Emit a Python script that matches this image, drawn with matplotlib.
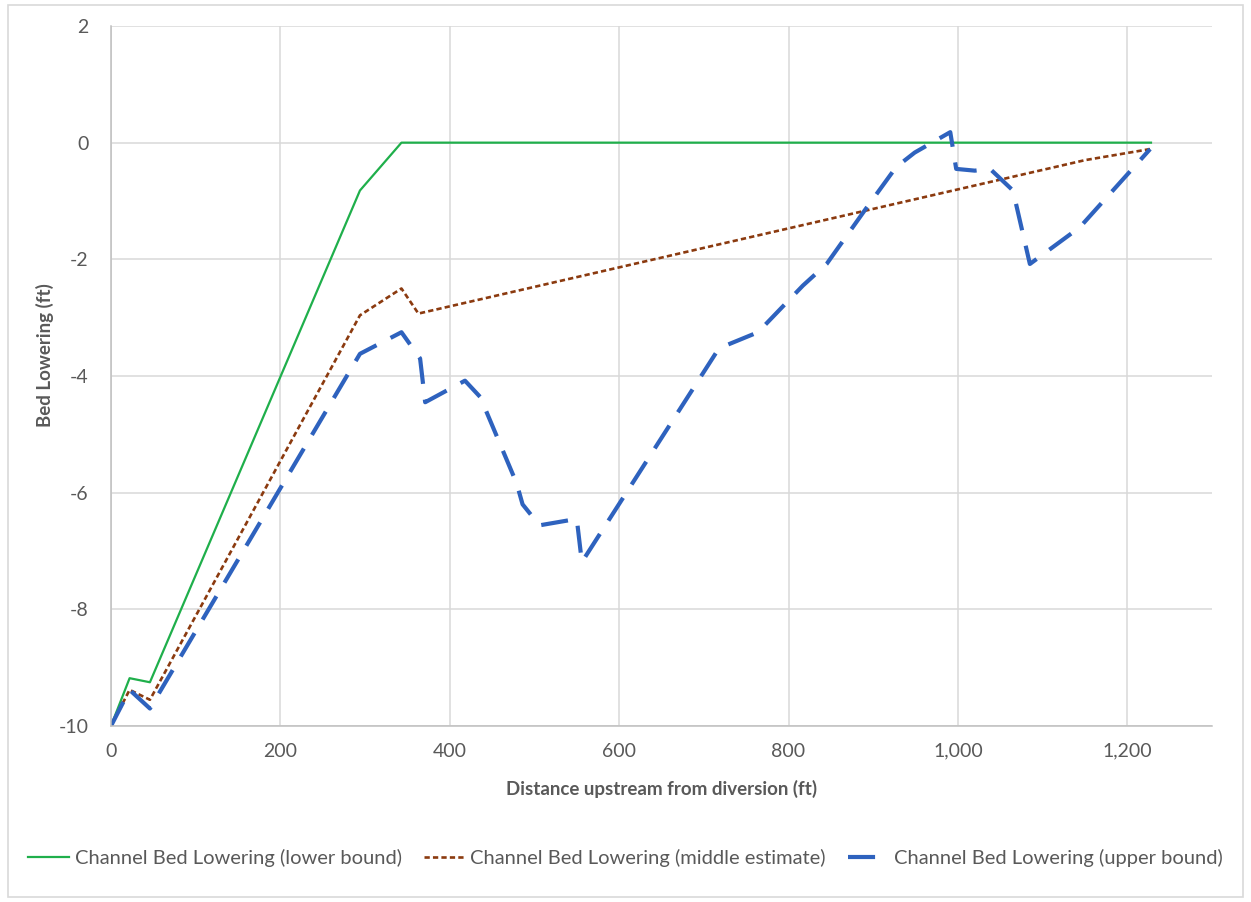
import matplotlib
matplotlib.use("Agg")
import matplotlib.pyplot as plt
from matplotlib.patches import Rectangle

# --- data ---
lower_x = [0, 22, 46, 294, 343, 1228]
lower_y = [-10, -9.18, -9.25, -0.82, 0, 0]

middle_x = [0, 22, 46, 294, 343, 363, 1150, 1227]
middle_y = [-10, -9.38, -9.55, -2.96, -2.5, -2.93, -0.3, -0.11]

upper_x = [0, 22, 46, 294, 343, 365, 371, 418, 436, 479, 486, 506, 550, 556,
           715, 722, 764, 817, 845, 890, 927, 949, 967, 991, 998, 1020, 1038,
           1065, 1085, 1144, 1227]
upper_y = [-10, -9.38, -9.7, -3.62, -3.25, -3.7, -4.45, -4.08, -4.36, -5.84,
           -6.2, -6.56, -6.45, -7.19, -3.59, -3.5, -3.25, -2.45, -2.08, -1.16,
           -0.42, -0.17, -0.02, 0.18, -0.45, -0.48, -0.45, -0.82, -2.08, -1.45,
           -0.11]

x_ticks = [0, 200, 400, 600, 800, 1000, 1200]
x_tick_labels = ["0", "200", "400", "600", "800", "1,000", "1,200"]
y_ticks = [-10, -8, -6, -4, -2, 0, 2]

plt.rcParams['font.family'] = ['Lato', 'DejaVu Sans']
plt.rcParams['axes.unicode_minus'] = False
text_col = '#595959'
grid_col = '#D9D9D9'

fig = plt.figure(figsize=(12.51, 9.02), dpi=100)
ax = fig.add_axes([0.0887, 0.1951, 0.8801, 0.7761])

ax.plot(lower_x, lower_y, color='#1FAF4B', lw=1.6,
        label='Channel Bed Lowering (lower bound)')
ax.plot(middle_x, middle_y, color='#8B3A0F', lw=1.9, dashes=(2.0, 1.2),
        label='Channel Bed Lowering (middle estimate)')
ax.plot(upper_x, upper_y, color='#2E62BE', lw=3.0, dashes=(6.5, 3.8),
        label='Channel Bed Lowering (upper bound)')

ax.set_xlim(0, 1300)
ax.set_ylim(-10, 2)
ax.set_xticks(x_ticks)
ax.set_xticklabels(x_tick_labels)
ax.set_yticks(y_ticks)
ax.grid(True, color=grid_col, lw=1.1)
ax.set_axisbelow(True)
ax.tick_params(length=0, labelsize=14, colors=text_col, pad=12)
ax.tick_params(axis='y', pad=16)

for s in ['top', 'right']:
    ax.spines[s].set_visible(False)
for s in ['left', 'bottom']:
    ax.spines[s].set_color('#BFBFBF')
    ax.spines[s].set_linewidth(1.1)

ax.set_xlabel('Distance upstream from diversion (ft)', fontsize=13.5,
              fontweight='bold', color=text_col)
ax.set_ylabel('Bed Lowering (ft)', fontsize=13.5, fontweight='bold',
              color=text_col)
ax.xaxis.set_label_coords(0.5, -0.077)
ax.yaxis.set_label_coords(-0.052, 0.53)

leg = fig.legend(loc='center', bbox_to_anchor=(0.5, 0.049), ncol=3,
                 frameon=False, fontsize=14.5, handlelength=2.0,
                 columnspacing=1.1, handletextpad=0.3)
for t in leg.get_texts():
    t.set_color(text_col)

fig.patches.append(Rectangle((0.006, 0.006), 0.988, 0.988,
                             transform=fig.transFigure, fill=False,
                             edgecolor='#D9D9D9', lw=1.2))

fig.savefig('out.png', dpi=100, facecolor='white')
